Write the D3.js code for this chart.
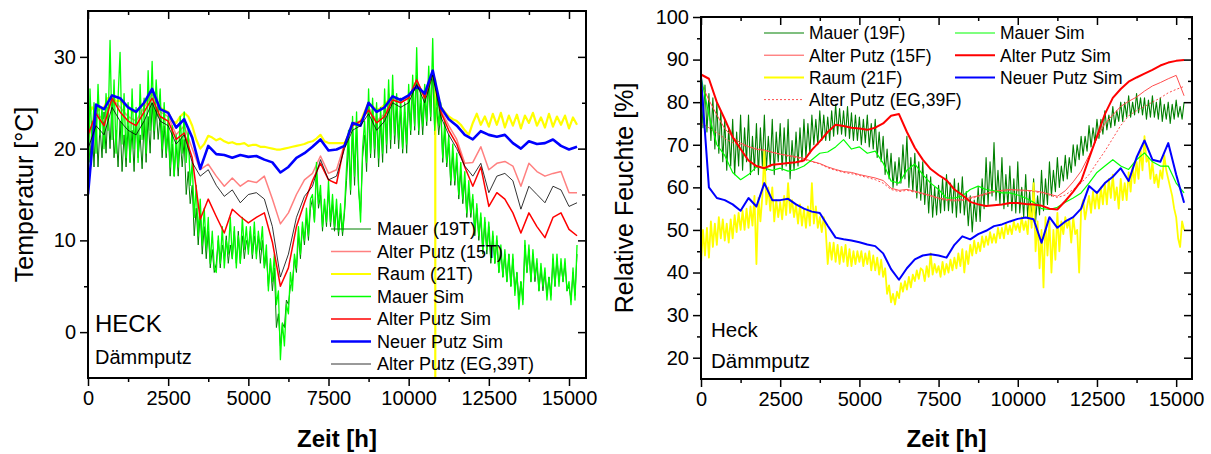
<!DOCTYPE html>
<html><head><meta charset="utf-8">
<script src="https://cdn.jsdelivr.net/npm/d3@7"></script>
<style>body{margin:0;background:#fff}svg{display:block}text{font-family:"Liberation Sans",Arial,sans-serif;fill:#000}</style>
</head><body><svg id="c" width="1211" height="454"></svg>
<script>
// ---------- steps (hours between stored samples) and ticks ----------
const stepDense = 62.5, stepFine = 125, stepCoarse = 250;
const xTicksMajor = [0, 2500, 5000, 7500, 10000, 12500, 15000];
const xTicksMinor = [1250, 3750, 6250, 8750, 11250, 13750];
const tempTicksMajor = [0, 10, 20, 30];
const tempTicksMinor = [5, 15, 25];
const humTicksMajor = [20, 30, 40, 50, 60, 70, 80, 90, 100];
const humTicksMinor = [25, 35, 45, 55, 65, 75, 85, 95];

// ---------- left panel: Temperatur ----------
// 62.5 h step
const mauerSimT = [
14.0,26.5,20.5,25.0,19.5,27.0,21.5,24.5,20.0,26.0,22.0,31.8,21.0,27.5,19.5,25.5,
30.5,20.5,26.0,19.0,25.0,18.5,26.5,20.0,24.5,18.5,27.0,21.0,25.5,19.5,28.5,22.0,
29.5,22.0,27.5,23.5,26.5,20.0,25.0,19.5,23.5,18.0,22.5,17.0,21.5,18.0,23.5,19.5,
24.0,18.5,22.0,16.0,18.5,12.5,16.0,10.5,14.5,9.5,13.5,9.0,12.5,7.5,11.0,7.0,
6.5,10.5,7.5,11.5,7.0,10.0,8.5,12.5,8.0,11.5,7.0,10.5,7.5,12.5,9.0,11.5,
8.5,11.5,8.5,12.0,8.0,11.0,9.0,11.5,7.0,9.5,4.5,8.0,5.5,8.5,3.0,4.5,
-3.0,1.0,-1.5,3.0,2.0,6.5,4.5,8.5,7.0,11.5,8.5,12.0,10.0,13.5,10.5,14.5,
15.0,12.0,18.5,14.0,16.0,11.5,14.5,12.0,16.5,12.0,15.0,11.5,14.5,11.0,14.0,11.0,
13.5,18.0,22.0,15.5,23.5,17.0,24.0,16.0,12.0,20.0,23.0,18.5,26.5,19.5,25.5,20.0,
25.0,19.0,24.5,19.5,26.5,20.5,27.5,21.0,28.0,21.5,26.0,21.0,25.5,20.0,25.0,20.5,
27.0,22.0,28.0,22.5,31.0,22.0,26.5,22.5,27.0,23.0,29.0,23.5,32.0,22.0,26.0,22.5,
25.0,19.0,23.0,18.5,21.5,16.5,20.5,16.5,19.5,15.0,18.5,14.5,17.5,13.0,16.5,13.0,
15.0,11.0,14.0,10.5,13.0,9.0,12.5,9.0,12.0,8.0,11.0,7.5,10.5,6.5,9.5,6.0,
9.0,5.5,8.5,5.0,8.5,4.0,6.5,2.5,5.5,3.0,10.0,6.5,9.5,5.5,9.0,6.0,
8.0,4.5,7.5,5.0,7.0,3.5,6.0,3.5,8.5,5.0,8.5,5.0,8.0,5.5,8.0,4.5,
5.5,3.0,7.0,3.5,9.5];
const mauerT = [
22.0,18.5,23.0,18.0,23.5,18.0,22.5,19.0,24.0,19.5,24.5,20.0,25.5,19.0,22.0,18.0,
23.0,17.5,21.5,18.0,22.5,18.5,22.0,17.5,24.0,19.0,21.5,17.8,23.0,18.5,23.5,19.5,
25.0,21.0,24.5,21.0,23.5,19.0,22.5,19.0,22.0,17.0,20.5,17.0,20.5,17.0,21.0,18.0,
21.0,15.0,17.5,14.0,16.0,10.5,13.5,9.5,13.0,8.5,11.5,8.0,11.0,7.0,9.0,6.5,
7.5,10.0,7.0,9.5,8.0,10.5,7.5,9.5,8.0,11.0,7.5,11.0,7.5,10.5,8.0,10.0,
9.0,11.0,8.0,10.5,8.5,10.5,7.5,10.0,7.0,8.5,5.0,7.5,4.5,7.0,0.5,2.0,
-1.5,1.0,0.5,3.5,3.0,5.0,5.5,8.0,6.5,10.5,8.0,11.5,9.5,12.5,10.0,13.5,
14.5,12.0,17.5,13.5,15.0,11.0,14.0,11.5,15.5,11.5,14.0,11.0,13.5,10.5,13.0,10.5,
13.0,16.5,20.5,15.0,22.0,16.0,22.0,15.5,13.0,19.0,21.5,17.5,24.5,19.0,24.0,19.0,
23.5,18.0,23.0,18.5,25.0,19.5,26.0,20.0,26.5,20.5,24.5,20.0,24.0,19.5,24.0,19.5,
25.5,21.5,26.5,22.0,28.0,21.5,25.0,21.5,25.5,22.5,27.0,23.0,28.5,21.5,24.5,21.5,
24.0,18.5,22.0,18.0,20.5,16.0,19.5,16.0,18.5,14.5,17.5,14.0,16.5,12.5,15.5,12.5,
14.5,10.5,13.5,10.0,12.5,8.5,12.0,8.5,11.5,7.5,10.5,7.5,10.0,6.5,9.0,6.0,
8.5,5.5,8.5,5.0,8.0,4.5,6.5,3.5,5.5,3.5,9.5,6.5,9.0,5.5,8.5,5.5,
7.5,4.5,7.0,4.5,6.5,4.0,6.0,4.0,8.0,5.0,8.0,5.5,7.5,5.5,7.5,4.5,
5.0,3.5,6.5,4.0,8.5];
// 125 h step
const raumT = [23.5,24.5,24.0,24.3,24.5,25.5,25.6,25.2,25.2,24.8,
24.6,24.0,24.0,24.5,24.8,25.5,26.5,25.0,24.5,24.2,
24.0,23.0,22.8,23.5,23.9,23.5,22.5,21.0,20.0,20.5,
21.4,21.2,20.9,21.1,20.8,20.6,20.7,20.5,20.5,20.6,
20.3,20.4,20.4,20.2,20.2,20.1,20.0,19.9,19.9,20.0,
20.1,20.2,20.3,20.4,20.5,20.7,20.8,21.1,21.5,20.8,
20.6,20.6,20.6,20.6,20.6,21.5,22.8,22.5,23.0,24.0,
25.0,24.6,24.2,24.4,24.8,25.3,25.7,25.5,25.3,25.5,
25.8,26.3,26.8,26.4,26.0,27.0,28.0,26.0,24.6,24.0,
23.5,23.2,23.0,22.6,22.0,21.5,22.8,23.8,22.6,23.5,
22.4,23.8,22.6,23.9,22.3,23.6,22.5,23.7,22.2,23.6,
22.8,23.9,22.5,23.4,22.3,23.8,22.4,23.5,22.6,23.6,
22.2,23.4,22.6];
// sensor drop-out in the room series (vertical spike at one instant)
const raumDropT = [10830, 10830, 10830];
const raumDropV = [27.5, -6, 26.5];

// 250 h step
const neuerSimT = [15.0,24.8,24.3,25.8,25.5,24.5,24.0,25.0,26.5,24.3,
23.9,22.3,23.2,21.2,17.8,20.3,19.4,19.3,19.0,19.3,
19.1,19.2,18.8,18.5,17.4,18.0,19.0,19.5,20.2,21.0,
19.8,19.9,20.3,22.8,22.5,25.0,24.0,24.5,25.7,25.3,
25.8,26.8,26.0,28.5,24.5,23.2,22.5,21.5,21.0,21.9,
21.5,21.3,21.5,20.6,20.0,20.8,20.5,20.6,21.0,20.3,
19.9,20.2];
const alterSimT = [21.5,23.8,22.5,25.5,24.0,23.0,22.5,24.0,25.5,23.5,
23.0,21.0,21.7,19.0,12.3,14.5,12.6,10.8,13.4,12.6,
11.9,12.5,13.0,9.8,5.0,7.0,11.5,14.1,16.5,18.4,
16.6,16.2,20.5,22.5,23.0,24.2,22.8,23.5,25.3,25.0,
25.5,27.5,25.5,28.5,24.0,22.0,20.5,18.0,15.9,18.0,
13.7,15.2,14.5,13.0,10.8,13.0,11.5,10.3,12.5,13.0,
11.2,10.5];
const alterPutzT = [21.0,24.0,23.0,25.5,24.5,23.5,23.0,24.5,26.0,24.0,
23.5,21.5,22.5,20.0,17.7,18.3,17.0,15.9,16.8,15.9,
16.5,16.3,17.0,14.5,11.8,13.0,15.0,16.6,17.3,19.2,
17.3,17.7,20.5,22.8,23.0,24.5,23.0,23.8,25.5,25.0,
25.6,27.5,25.6,28.5,24.2,22.5,21.0,18.4,18.5,20.2,
17.7,18.4,18.6,18.1,15.9,18.4,17.5,17.0,17.3,17.5,
15.2,15.2];
const egT = [20.0,22.5,21.5,24.5,23.0,22.0,21.5,23.0,25.0,23.0,
22.5,20.5,21.5,18.5,17.0,17.7,16.0,14.8,15.5,14.1,
15.0,15.2,14.5,11.5,6.0,8.5,12.5,14.8,15.9,18.8,
16.6,17.0,20.0,22.0,22.5,23.8,22.0,23.0,25.0,24.5,
25.0,27.0,25.0,28.0,23.5,21.5,20.0,18.1,17.0,18.4,
15.2,17.0,17.3,16.5,13.4,15.9,15.0,14.1,15.9,15.5,
13.7,14.1];

// ---------- right panel: Relative Feuchte ----------
// 250 h step
const alterSimF = [86.5,85.5,80.0,76.0,71.8,69.0,66.3,65.0,64.5,65.3,
65.5,65.7,65.9,66.3,68.8,70.8,73.0,74.7,74.4,74.0,
73.8,73.5,74.0,75.0,76.8,77.2,73.0,69.3,66.5,64.3,
62.9,61.7,59.5,58.2,56.6,56.0,55.6,55.8,56.0,56.3,
56.3,56.1,56.0,55.7,55.0,54.8,56.8,59.0,61.5,66.8,
72.0,77.2,81.0,83.1,84.8,85.8,86.7,87.6,88.6,89.3,
89.7,89.9];
const alterPutzF = [84.5,80.5,77.0,73.8,71.8,70.4,69.6,68.9,68.7,68.2,
67.8,67.5,67.2,66.8,66.1,65.6,64.8,64.2,63.7,63.5,
63.0,62.6,62.2,61.6,59.8,59.3,59.5,59.1,58.6,58.1,
57.5,57.2,57.0,57.1,57.6,58.0,58.6,59.1,59.3,59.5,
59.4,59.3,59.2,58.9,58.4,57.9,59.2,61.3,63.8,67.5,
71.5,75.0,77.0,79.0,80.2,81.2,82.6,83.8,84.6,85.5,
86.3,81.5];
const egF = [75.0,74.0,72.8,71.5,70.5,70.0,69.5,69.2,68.8,68.3,
67.8,67.3,67.0,66.5,66.0,65.5,64.6,64.0,63.5,63.2,
62.8,62.3,61.8,61.0,59.5,59.0,59.3,58.9,58.4,57.9,
57.3,56.9,56.8,56.9,57.3,57.8,58.3,58.9,59.1,59.3,
59.2,59.1,59.0,58.7,58.2,57.6,58.2,59.5,61.0,63.0,
65.8,68.5,71.5,74.5,76.8,78.0,79.0,80.0,81.0,82.2,
83.0,83.7];
const mauerSimF = [86.0,77.0,70.0,67.5,63.5,61.8,63.0,64.8,64.5,64.0,
64.5,63.8,64.2,65.0,66.5,68.0,68.3,69.5,71.2,69.0,
69.5,68.0,68.5,65.7,61.5,61.0,64.0,65.5,63.0,61.0,
59.5,57.5,57.5,58.0,59.5,60.3,59.5,59.2,58.7,58.7,
58.2,57.5,56.5,55.0,54.8,55.3,56.5,57.5,58.7,61.0,
63.5,65.0,66.5,65.0,64.2,66.5,68.1,66.0,65.0,65.0,
61.0,58.7];
const neuerSimF = [86.0,60.0,57.5,57.0,56.0,54.5,57.5,55.5,61.0,57.0,
57.0,57.3,56.0,55.0,54.3,54.0,51.0,48.2,47.8,47.5,
47.1,46.6,46.2,44.5,40.8,38.3,41.0,43.1,44.0,44.3,
44.0,43.5,46.5,48.5,47.8,49.0,49.8,50.9,51.3,52.0,
52.6,52.9,52.5,47.0,53.0,50.5,52.0,53.0,55.0,60.3,
58.7,61.0,62.5,64.5,61.5,67.0,71.0,66.5,66.0,70.4,
63.0,56.4];
// 62.5 h step
const raumF = [
42.0,50.0,44.0,50.5,43.5,52.0,46.0,51.5,46.5,53.0,48.0,52.5,47.5,51.5,47.0,52.5,
48.0,53.5,49.5,54.0,50.0,54.5,50.0,55.0,50.5,55.5,51.0,58.0,42.0,57.5,52.0,58.0,
68.5,56.0,60.0,54.5,60.0,52.0,57.0,53.0,56.5,52.5,58.0,53.5,61.0,54.0,57.0,53.0,
56.0,51.5,56.0,51.0,55.0,50.5,55.5,51.0,61.0,51.5,55.5,50.5,53.0,49.5,53.0,50.0,
42.0,47.0,43.0,47.0,42.5,46.5,42.0,46.0,42.5,46.5,41.5,45.5,41.5,45.0,42.0,45.0,
42.5,45.0,41.5,44.5,42.0,45.0,40.5,44.0,40.5,43.5,39.5,43.0,39.0,41.0,35.0,37.0,
33.0,35.0,32.5,35.5,34.0,37.5,35.5,38.0,36.0,39.0,36.5,39.5,38.0,40.5,38.5,41.0,
40.5,38.0,41.5,39.0,44.5,39.5,42.0,40.0,41.5,39.0,42.5,39.5,42.0,40.0,43.0,40.5,
43.5,41.0,44.5,41.5,45.5,40.0,45.0,42.0,46.5,44.0,47.5,44.5,47.0,45.0,48.5,46.0,
48.5,46.5,49.5,47.0,49.0,47.0,50.5,48.0,50.5,48.0,51.5,49.0,51.0,49.0,52.0,50.0,
51.5,49.5,53.0,50.0,52.0,49.0,56.0,50.5,61.0,45.0,52.0,41.0,50.0,36.5,53.0,44.0,
52.0,40.0,50.0,43.0,54.0,45.0,52.0,49.0,53.0,50.5,52.5,47.0,53.0,49.0,50.0,40.0,
55.0,57.0,52.5,55.5,58.0,54.0,59.0,55.0,59.0,55.0,60.0,56.0,61.0,56.0,62.0,57.5,
63.0,57.0,60.0,55.0,62.0,57.0,61.0,57.0,63.5,59.0,65.0,61.0,66.0,62.0,69.0,64.0,
72.0,66.0,67.0,62.0,66.0,61.0,63.0,60.0,64.0,62.0,67.5,64.0,62.0,60.0,58.0,55.0,
53.0,48.0,46.0,52.0,50.0];
const mauerF = [
85.0,74.0,84.0,73.0,82.0,71.0,81.0,69.0,80.0,68.0,78.0,66.0,76.0,64.0,74.0,65.0,
76.0,63.0,73.0,65.0,77.0,64.0,74.0,66.0,77.0,63.0,72.0,64.0,75.0,63.0,74.0,65.0,
77.0,64.0,72.0,65.0,76.0,63.0,73.0,66.0,75.0,64.0,74.0,65.0,76.0,62.0,71.0,64.0,
73.0,65.0,74.0,66.0,76.0,67.0,75.0,68.0,77.0,70.0,76.0,70.0,78.0,71.0,77.0,71.0,
76.5,71.0,78.0,72.0,79.5,72.5,78.5,72.5,78.0,72.0,79.0,71.5,77.5,71.0,77.0,71.0,
76.5,70.0,76.0,70.5,77.0,69.5,75.0,69.0,76.0,67.0,73.0,66.0,72.0,63.0,69.0,62.0,
68.0,60.0,66.0,60.5,67.0,61.0,70.0,62.0,72.0,60.0,67.0,59.0,68.0,57.5,66.0,57.0,
66.0,56.0,63.0,54.0,62.5,53.0,60.0,53.5,60.5,54.0,62.0,54.5,63.0,54.5,61.0,54.0,
62.0,53.0,61.0,54.0,62.5,53.5,59.0,51.0,58.0,49.5,57.0,52.0,60.0,52.0,62.0,55.0,
67.0,56.0,66.0,58.0,70.5,57.0,64.0,56.0,67.0,55.0,63.0,55.5,65.0,54.5,62.0,54.0,
66.0,54.0,60.0,53.0,63.0,53.0,59.0,52.5,62.0,52.0,58.0,53.5,64.0,54.5,62.0,56.0,
66.0,58.0,64.0,59.0,67.0,60.0,65.0,61.5,67.5,62.0,67.0,63.5,70.0,65.0,70.0,66.5,
72.0,67.5,72.0,68.5,74.5,69.5,74.0,70.5,76.0,71.5,76.0,72.5,78.0,73.5,77.0,74.0,
79.0,74.5,78.0,75.5,80.0,75.5,80.0,76.5,81.5,76.5,80.0,77.0,82.0,77.5,81.0,77.0,
81.0,76.0,80.5,76.5,81.5,76.5,80.0,76.0,81.0,75.5,79.5,76.0,80.0,75.0,79.5,76.0,
80.5,76.5,79.0,76.0,80.0];

// ---------- helpers ----------
function pts(vals, step, extraT, extraV) {
  const p = vals.map((v, i) => [i * step, v]);
  if (extraT) extraT.forEach((t, k) => p.push([t, extraV[k]]));
  return p.sort((a, b) => a[0] - b[0]);
}

const svg = d3.select("#c");
const FONT = '"Liberation Sans", Arial, sans-serif';

function panel(cfg, id) {
  const x = d3.scaleLinear().domain(cfg.xDom).range([cfg.x0, cfg.x1]);
  const y = d3.scaleLinear().domain(cfg.yDom).range([cfg.y1, cfg.y0]);
  const g = svg.append("g");
  g.append("clipPath").attr("id", "clip" + id).append("rect")
    .attr("x", cfg.x0).attr("y", cfg.y0).attr("width", cfg.x1 - cfg.x0).attr("height", cfg.y1 - cfg.y0);
  const lines = g.append("g").attr("clip-path", `url(#clip${id})`);
  const line = d3.line().x(d => x(d[0])).y(d => y(d[1]));
  cfg.series.forEach(s => {
    lines.append("path").datum(s.data).attr("d", line)
      .attr("fill", "none").attr("stroke", s.color).attr("stroke-width", s.w)
      .attr("stroke-linejoin", "round")
      .attr("stroke-dasharray", s.dash || null);
  });
  const fmt = d3.format("d");
  const style = sel => {
    sel.select(".domain").remove();
    sel.selectAll("line").attr("stroke", "#000").attr("stroke-width", 1.5);
    sel.selectAll("text").attr("font-size", 20).attr("font-family", FONT).attr("fill", "#000");
  };
  g.append("g").attr("transform", `translate(0,${cfg.y1})`)
    .call(d3.axisBottom(x).tickValues(xTicksMajor).tickSize(8).tickPadding(5).tickFormat(fmt)).call(style);
  g.append("g").attr("transform", `translate(0,${cfg.y1})`)
    .call(d3.axisBottom(x).tickValues(xTicksMinor).tickSize(4).tickFormat("")).call(style);
  g.append("g").attr("transform", `translate(0,${cfg.y0})`)
    .call(d3.axisTop(x).tickValues(xTicksMajor).tickSize(-8).tickFormat("")).call(style);
  g.append("g").attr("transform", `translate(0,${cfg.y0})`)
    .call(d3.axisTop(x).tickValues(xTicksMinor).tickSize(-4).tickFormat("")).call(style);
  g.append("g").attr("transform", `translate(${cfg.x0},0)`)
    .call(d3.axisLeft(y).tickValues(cfg.yMajor).tickSize(8).tickPadding(4).tickFormat(fmt)).call(style);
  g.append("g").attr("transform", `translate(${cfg.x0},0)`)
    .call(d3.axisLeft(y).tickValues(cfg.yMinor).tickSize(4).tickFormat("")).call(style);
  g.append("g").attr("transform", `translate(${cfg.x1},0)`)
    .call(d3.axisRight(y).tickValues(cfg.yMajor).tickSize(-8).tickFormat("")).call(style);
  g.append("g").attr("transform", `translate(${cfg.x1},0)`)
    .call(d3.axisRight(y).tickValues(cfg.yMinor).tickSize(-4).tickFormat("")).call(style);
  g.append("rect").attr("x", cfg.x0).attr("y", cfg.y0)
    .attr("width", cfg.x1 - cfg.x0).attr("height", cfg.y1 - cfg.y0)
    .attr("fill", "none").attr("stroke", "#000").attr("stroke-width", 2);
  g.append("text").attr("x", (cfg.x0 + cfg.x1) / 2).attr("y", 447)
    .attr("text-anchor", "middle").attr("font-size", 24).attr("font-weight", "bold").text("Zeit [h]");
  g.append("text").attr("transform", `translate(${cfg.ytx},${(cfg.y0 + cfg.y1) / 2}) rotate(-90)`)
    .attr("text-anchor", "middle").attr("font-size", 25).text(cfg.ytitle);
  cfg.legend.forEach(L => {
    L.items.forEach((it, i) => {
      const cy = L.y + i * L.dy;
      g.append("line").attr("x1", L.lx0).attr("x2", L.lx1).attr("y1", cy).attr("y2", cy)
        .attr("stroke", it.color).attr("stroke-width", it.lw || it.w).attr("stroke-dasharray", it.dash || null);
      g.append("text").attr("x", L.tx).attr("y", cy + L.fs * 0.36).attr("font-size", L.fs).text(it.label);
    });
  });
  cfg.notes.forEach(n => {
    g.append("text").attr("x", n.x).attr("y", n.y).attr("font-size", n.fs).text(n.text);
  });
}

const cDark = "#008000", cGreen = "#00ff00", cPink = "#ff8080", cYellow = "#ffff00",
      cRed = "#ff0000", cBlue = "#0000ff", cBlack = "#000000", cLightRed = "#ff4d4d";

const leftSeries = [
  {label: "Mauer (19T)", data: pts(mauerT, stepDense), color: cDark, w: 1},
  {label: "Alter Putz (15T)", data: pts(alterPutzT, stepCoarse), color: cPink, w: 1.5},
  {label: "Raum (21T)", data: pts(raumT, stepFine, raumDropT, raumDropV), color: cYellow, w: 2.2},
  {label: "Mauer Sim", data: pts(mauerSimT, stepDense), color: cGreen, w: 1.3, lw: 1.5},
  {label: "Alter Putz Sim", data: pts(alterSimT, stepCoarse), color: cRed, w: 1.5},
  {label: "Neuer Putz Sim", data: pts(neuerSimT, stepCoarse), color: cBlue, w: 2.6},
  {label: "Alter Putz (EG,39T)", data: pts(egT, stepCoarse), color: cBlack, w: 0.8}
];
panel({
  x0: 88, x1: 586, y0: 11, y1: 378, xDom: [0, 15530], yDom: [-5, 35],
  yMajor: tempTicksMajor, yMinor: tempTicksMinor,
  series: leftSeries, ytitle: "Temperatur [°C]", ytx: 33,
  legend: [{items: leftSeries, lx0: 331, lx1: 371, tx: 377, y: 229, dy: 22.5, fs: 18}],
  notes: [{x: 95, y: 332, fs: 24, text: "HECK"}, {x: 95, y: 364, fs: 20, text: "Dämmputz"}]
}, "L");

const rightSeries = [
  {label: "Mauer (19F)", data: pts(mauerF, stepDense), color: cDark, w: 1.1, lw: 1.2},
  {label: "Alter Putz (15F)", data: pts(alterPutzF, stepCoarse), color: cLightRed, w: 1},
  {label: "Raum (21F)", data: pts(raumF, stepDense), color: cYellow, w: 1.8, lw: 2},
  {label: "Alter Putz (EG,39F)", data: pts(egF, stepCoarse), color: cLightRed, w: 1, dash: "2,2"},
  {label: "Mauer Sim", data: pts(mauerSimF, stepCoarse), color: cGreen, w: 1.2},
  {label: "Alter Putz Sim", data: pts(alterSimF, stepCoarse), color: cRed, w: 2},
  {label: "Neuer Putz Sim", data: pts(neuerSimF, stepCoarse), color: cBlue, w: 2}
];
panel({
  x0: 701, x1: 1192, y0: 17, y1: 379, xDom: [0, 15500], yDom: [15, 100],
  yMajor: humTicksMajor, yMinor: humTicksMinor,
  series: rightSeries, ytitle: "Relative Feuchte [%]", ytx: 633,
  legend: [
    {items: rightSeries.slice(0, 4), lx0: 764, lx1: 804, tx: 809, y: 33, dy: 22.2, fs: 17.5},
    {items: rightSeries.slice(4), lx0: 955, lx1: 995, tx: 1000, y: 33, dy: 22.2, fs: 17.5}
  ],
  notes: [{x: 711, y: 337, fs: 20.5, text: "Heck"}, {x: 711, y: 368, fs: 20.5, text: "Dämmputz"}]
}, "R");
</script></body></html>
